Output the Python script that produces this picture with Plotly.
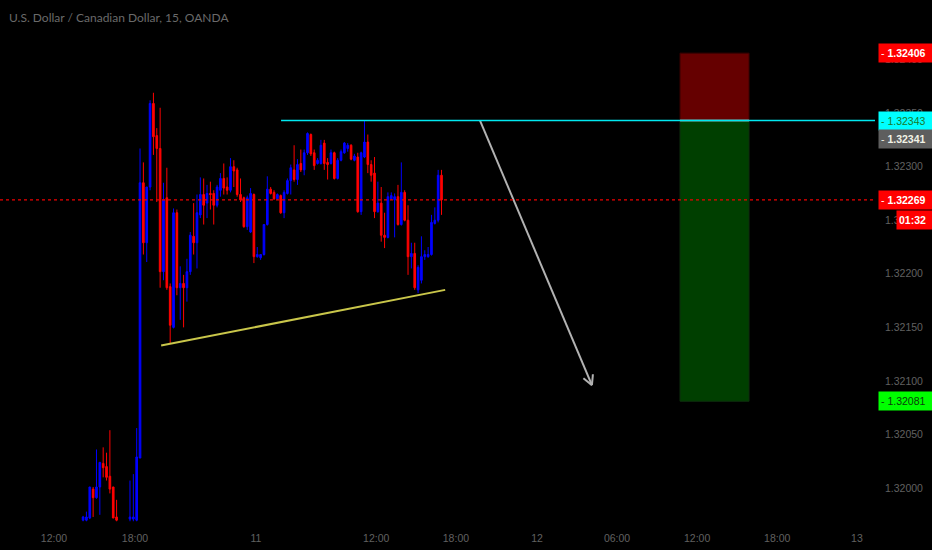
import math

import plotly.graph_objects as go

# --- candles (15 min bars, USD/CAD) ----------------------------------------
# bar numbers along the time axis; a few empty bars before the Sunday open
bar_no = list(range(0, 11)) + list(range(14, 108))

opens = [
    1.31970, 1.31970, 1.31972, 1.31999, 1.31991, 1.32001, 1.32023, 1.32020, 1.32011, 1.32001,
    1.31973, 1.31971, 1.31971, 1.31970, 1.32028, 1.32285, 1.32229, 1.32281, 1.32359, 1.32329,
    1.32317, 1.32202, 1.32271, 1.32188, 1.32150, 1.32257, 1.32187, 1.32191, 1.32187, 1.32202,
    1.32235, 1.32229, 1.32255, 1.32274, 1.32266, 1.32275, 1.32275, 1.32264, 1.32278, 1.32289,
    1.32281, 1.32278, 1.32300, 1.32297, 1.32274, 1.32271, 1.32244, 1.32239, 1.32274, 1.32216,
    1.32215, 1.32218, 1.32246, 1.32279, 1.32276, 1.32270, 1.32273, 1.32257, 1.32275, 1.32287,
    1.32297, 1.32288, 1.32303, 1.32297, 1.32313, 1.32330, 1.32313, 1.32303, 1.32303, 1.32322,
    1.32304, 1.32303, 1.32313, 1.32289, 1.32306, 1.32313, 1.32317, 1.32320, 1.32306, 1.32309,
    1.32258, 1.32309, 1.32323, 1.32302, 1.32294, 1.32258, 1.32266, 1.32236, 1.32234, 1.32270,
    1.32269, 1.32272, 1.32246, 1.32276, 1.32250, 1.32216, 1.32219, 1.32185, 1.32194, 1.32216,
    1.32216, 1.32218, 1.32247, 1.32250, 1.32292,
]
highs = [
    1.31974, 1.31978, 1.32001, 1.32001, 1.32036, 1.32024, 1.32038, 1.32033, 1.32054, 1.32001,
    1.31989, 1.32007, 1.32013, 1.32056, 1.32317, 1.32304, 1.32281, 1.32362, 1.32369, 1.32336,
    1.32355, 1.32285, 1.32299, 1.32191, 1.32261, 1.32260, 1.32207, 1.32199, 1.32214, 1.32239,
    1.32266, 1.32274, 1.32290, 1.32289, 1.32283, 1.32286, 1.32278, 1.32283, 1.32294, 1.32303,
    1.32290, 1.32308, 1.32306, 1.32299, 1.32289, 1.32272, 1.32273, 1.32280, 1.32275, 1.32225,
    1.32218, 1.32246, 1.32291, 1.32281, 1.32278, 1.32275, 1.32274, 1.32278, 1.32289, 1.32302,
    1.32320, 1.32307, 1.32316, 1.32316, 1.32332, 1.32331, 1.32316, 1.32308, 1.32325, 1.32325,
    1.32308, 1.32316, 1.32314, 1.32308, 1.32316, 1.32323, 1.32322, 1.32321, 1.32312, 1.32313,
    1.32314, 1.32343, 1.32330, 1.32306, 1.32309, 1.32286, 1.32281, 1.32257, 1.32276, 1.32276,
    1.32275, 1.32283, 1.32304, 1.32278, 1.32264, 1.32229, 1.32229, 1.32208, 1.32235, 1.32222,
    1.32225, 1.32255, 1.32262, 1.32297, 1.32297,
]
lows = [
    1.31969, 1.31969, 1.31971, 1.31973, 1.31990, 1.31975, 1.32010, 1.32007, 1.31995, 1.31972,
    1.31969, 1.31969, 1.31969, 1.31969, 1.32028, 1.32218, 1.32211, 1.32278, 1.32311, 1.32267,
    1.32187, 1.32194, 1.32185, 1.32135, 1.32149, 1.32180, 1.32157, 1.32150, 1.32174, 1.32199,
    1.32218, 1.32205, 1.32252, 1.32246, 1.32252, 1.32260, 1.32246, 1.32262, 1.32272, 1.32274,
    1.32274, 1.32276, 1.32281, 1.32272, 1.32267, 1.32243, 1.32241, 1.32238, 1.32210, 1.32215,
    1.32213, 1.32217, 1.32245, 1.32274, 1.32269, 1.32269, 1.32256, 1.32252, 1.32274, 1.32274,
    1.32286, 1.32283, 1.32295, 1.32292, 1.32311, 1.32310, 1.32297, 1.32302, 1.32302, 1.32297,
    1.32288, 1.32302, 1.32288, 1.32288, 1.32305, 1.32312, 1.32314, 1.32306, 1.32305, 1.32257,
    1.32255, 1.32308, 1.32294, 1.32286, 1.32252, 1.32257, 1.32230, 1.32224, 1.32233, 1.32269,
    1.32234, 1.32245, 1.32245, 1.32249, 1.32199, 1.32205, 1.32185, 1.32182, 1.32191, 1.32213,
    1.32215, 1.32217, 1.32246, 1.32248, 1.32255,
]
closes = [
    1.31973, 1.31973, 1.32001, 1.31991, 1.32001, 1.32024, 1.32019, 1.32010, 1.31999, 1.31972,
    1.31970, 1.31973, 1.31973, 1.32029, 1.32285, 1.32229, 1.32281, 1.32359, 1.32328, 1.32317,
    1.32202, 1.32269, 1.32187, 1.32152, 1.32257, 1.32187, 1.32191, 1.32187, 1.32202, 1.32236,
    1.32229, 1.32257, 1.32274, 1.32264, 1.32275, 1.32274, 1.32264, 1.32281, 1.32289, 1.32280,
    1.32278, 1.32300, 1.32296, 1.32274, 1.32269, 1.32244, 1.32271, 1.32275, 1.32216, 1.32218,
    1.32218, 1.32246, 1.32279, 1.32275, 1.32270, 1.32274, 1.32257, 1.32276, 1.32287, 1.32299,
    1.32288, 1.32302, 1.32297, 1.32313, 1.32331, 1.32312, 1.32301, 1.32306, 1.32320, 1.32303,
    1.32302, 1.32313, 1.32289, 1.32306, 1.32314, 1.32322, 1.32320, 1.32307, 1.32310, 1.32258,
    1.32313, 1.32323, 1.32302, 1.32292, 1.32258, 1.32266, 1.32236, 1.32234, 1.32272, 1.32273,
    1.32272, 1.32246, 1.32276, 1.32250, 1.32216, 1.32219, 1.32187, 1.32206, 1.32216, 1.32218,
    1.32218, 1.32248, 1.32250, 1.32292, 1.32269,
]

# time axis labels (positions in bar numbers)
time_tick_pos = [-8.7, 15.5, 51.6, 87.5, 111.3, 135.5, 159.4, 183.3, 207.2, 231.0]
time_tick_text = ["12:00", "18:00", "11", "12:00", "18:00", "12", "06:00", "12:00", "18:00", "13"]

price_ticks = [1.32000, 1.32050, 1.32100, 1.32150, 1.32200, 1.32250,
               1.32300, 1.32350, 1.32400, 1.32450]

# --- drawings on the chart --------------------------------------------------
last_price = 1.32269
resistance_price = 1.32343
resistance_start = 59.1
support_pts = [(23.3, 1.32133), (108.1, 1.32185)]
arrow_pts = [(118.5, 1.32343), (151.9, 1.32096)]
pos_x = (178.2, 198.8)
pos_stop, pos_entry, pos_target = 1.32406, 1.32343, 1.32081

X_RANGE = [-24.8, 236.4]
Y_RANGE = [1.319683, 1.324556]
W, H = 932, 550
M = dict(l=0, r=57, t=0, b=28)
plot_w = W - M["l"] - M["r"]
plot_h = H - M["t"] - M["b"]
px_x = plot_w / (X_RANGE[1] - X_RANGE[0])
px_y = plot_h / (Y_RANGE[1] - Y_RANGE[0])

AXIS_GREY = "#606060"
LABEL_FONT = "Liberation Sans, Arial"

fig = go.Figure()

fig.add_trace(
    go.Candlestick(
        x=bar_no,
        open=opens,
        high=highs,
        low=lows,
        close=closes,
        increasing={"line": {"color": "#0000ff", "width": 1}, "fillcolor": "#0000ff"},
        decreasing={"line": {"color": "#ff0000", "width": 1}, "fillcolor": "#ff0000"},
        whiskerwidth=0,
        hoverinfo="x+y",
        showlegend=False,
    )
)

# support trend line (yellow)
fig.add_trace(
    go.Scatter(
        x=[p[0] for p in support_pts],
        y=[p[1] for p in support_pts],
        mode="lines",
        line={"color": "#c9c64a", "width": 2},
        hoverinfo="skip",
        showlegend=False,
    )
)

# projected move arrow (grey) with open V head
(ax0, ay0), (ax1, ay1) = arrow_pts
dxp = (ax1 - ax0) * px_x
dyp = (ay1 - ay0) * px_y
ang = math.atan2(dyp, dxp)
wing, spread = 11, math.radians(28)
wings_x, wings_y = [], []
for s in (-1, 1):
    a = ang + math.pi + s * spread
    wings_x += [ax1 + wing * math.cos(a) / px_x, ax1, None]
    wings_y += [ay1 + wing * math.sin(a) / px_y, ay1, None]
fig.add_trace(
    go.Scatter(
        x=[ax0, ax1, None] + wings_x,
        y=[ay0, ay1, None] + wings_y,
        mode="lines",
        line={"color": "#b2b2b2", "width": 2},
        hoverinfo="skip",
        showlegend=False,
    )
)

shapes = [
    # short position: stop zone and target zone
    dict(type="rect", xref="x", yref="y", x0=pos_x[0], x1=pos_x[1],
         y0=pos_entry, y1=pos_stop, fillcolor="#650000",
         line={"color": "#3a0000", "width": 1}, layer="below"),
    dict(type="rect", xref="x", yref="y", x0=pos_x[0], x1=pos_x[1],
         y0=pos_target, y1=pos_entry, fillcolor="#003f00",
         line={"color": "#0e2e0e", "width": 1}, layer="below"),
    dict(type="line", xref="x", yref="y", x0=pos_x[0], x1=pos_x[1],
         y0=pos_entry, y1=pos_entry, line={"color": "#8c8c8c", "width": 2}),
    # last price dotted line
    dict(type="line", xref="paper", yref="y", x0=0, x1=1, y0=last_price, y1=last_price,
         line={"color": "#f00000", "width": 1.3, "dash": "dot"}),
    # resistance line
    dict(type="line", xref="x", yref="y", x0=resistance_start, x1=X_RANGE[1],
         y0=resistance_price, y1=resistance_price,
         line={"color": "#00e8f0", "width": 1.5}),
]


def price_tag(y, text, bg, fg, yshift=0, xshift=3, width=50):
    return dict(
        xref="paper", yref="y", x=1, y=y, xanchor="left", yanchor="middle",
        xshift=xshift, yshift=yshift, text=text, showarrow=False,
        bgcolor=bg, borderpad=2, width=width, height=14, align="left",
        font={"family": LABEL_FONT, "size": 10.5, "color": fg},
    )


annotations = [
    dict(xref="paper", yref="paper", x=0.008, y=0.985, xanchor="left", yanchor="top",
         text="U.S. Dollar / Canadian Dollar, 15, OANDA", showarrow=False,
         font={"family": "Lato, Arial", "size": 12, "color": "#6a6a6a"}),
    price_tag(pos_stop, "- <b>1.32406</b>", "#ff0000", "#ffffff"),
    price_tag(resistance_price, "- 1.32343", "#00ffff", "#1a7a2a"),
    price_tag(resistance_price, "- <b>1.32341</b>", "#5e5e5e", "#f2f2e6", yshift=-18),
    price_tag(last_price, "- <b>1.32269</b>", "#ff0000", "#ffffff"),
    price_tag(last_price, "<b>01:32</b>", "#ff0000", "#ffffff", yshift=-20, xshift=21, width=32),
    price_tag(pos_target, "- 1.32081", "#00ff00", "#0b3d0b"),
]

fig.update_layout(
    width=W,
    height=H,
    margin=M,
    paper_bgcolor="#000000",
    plot_bgcolor="#000000",
    shapes=shapes,
    annotations=annotations,
    showlegend=False,
    hovermode="closest",
    xaxis={
        "range": X_RANGE,
        "rangeslider": {"visible": False},
        "showgrid": False,
        "zeroline": False,
        "showline": False,
        "tickmode": "array",
        "tickvals": time_tick_pos,
        "ticktext": time_tick_text,
        "ticks": "",
        "ticklabelstandoff": 8,
        "tickfont": {"family": LABEL_FONT, "size": 10.5, "color": AXIS_GREY},
        "fixedrange": True,
    },
    yaxis={
        "range": Y_RANGE,
        "side": "right",
        "showgrid": False,
        "zeroline": False,
        "showline": False,
        "tickmode": "array",
        "tickvals": price_ticks,
        "ticktext": [f"{v:.5f}" for v in price_ticks],
        "ticks": "",
        "ticklabelstandoff": 9,
        "tickfont": {"family": LABEL_FONT, "size": 10.5, "color": AXIS_GREY},
        "fixedrange": True,
    },
)

# page sits flush in the window, black behind the chart
fig.write_html(
    "out.html",
    config={"displayModeBar": False},
    post_script="document.body.style.margin='0';document.body.style.background='#000';",
)
